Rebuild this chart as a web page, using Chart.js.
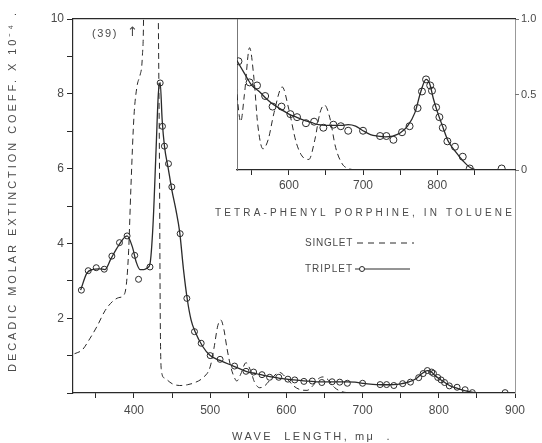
<!DOCTYPE html>
<html>
<head>
<meta charset="utf-8">
<script src="https://cdn.jsdelivr.net/npm/chart.js@4.4.1/dist/chart.umd.min.js"></script>
<style>
  html, body { margin: 0; padding: 0; background: #fff; }
  #wrap { position: relative; width: 542px; height: 443px; }
  #wrap canvas { position: absolute; left: 0; top: 0; }
</style>
</head>
<body>
<div id="wrap">
  <canvas id="main" width="542" height="443"></canvas>
  <canvas id="inset" width="542" height="443"></canvas>
</div>
<script>
// wave length in m\u03bc, extinction coeff. x 10^-4

// singlet (dashed)
const singletWave = [322,332,342,352,362,372,380,386,390,393,396,400,404,408,411,413,418,428,432,433.5,434.5,436,440,450,460,470,480,490,500,505,510,514,518,522,527,531,535,540,547,553,558,565,572,580,591,600,610,620,627,635,642,648,655,663,672,680,690];
const singletVal = [1.05,1.15,1.45,1.8,2.2,2.45,2.55,2.6,2.9,3.8,5.5,7.4,8.2,8.5,9.0,11,39,20,10,6,2,0.6,0.4,0.25,0.2,0.22,0.28,0.4,0.7,1.2,1.8,1.95,1.7,1.2,0.7,0.45,0.32,0.5,0.81,0.6,0.3,0.14,0.2,0.38,0.55,0.4,0.18,0.08,0.07,0.2,0.38,0.43,0.35,0.15,0.04,0.01,0];

// triplet, drawn curve
const tripletCurveWave = [330,338,345,355,362,370,380,391,398,403,408,413,418,421,425,429,432,434.4,437,440,445,450,455,460,465,470,475,480,490,500,513,528,540,550,560,570,580,590,600,610,620,630,640,650,660,670,680,690,700,710,720,730,740,750,760,770,778,785,790,795,800,808,815,825,835,845,860,905];
const tripletCurveVal = [2.75,3.2,3.3,3.32,3.3,3.6,3.95,4.2,3.9,3.5,3.3,3.3,3.35,3.45,4.5,6.5,8.0,8.3,7.3,6.6,6.0,5.4,4.9,4.3,3.3,2.5,1.95,1.65,1.25,1.0,0.87,0.74,0.64,0.56,0.52,0.47,0.43,0.40,0.37,0.35,0.33,0.315,0.30,0.295,0.295,0.295,0.30,0.29,0.26,0.235,0.225,0.22,0.225,0.245,0.29,0.38,0.52,0.60,0.57,0.47,0.39,0.28,0.19,0.12,0.06,0.015,0,0];

// triplet, measured points (circles)
const tripletPtWave = [331,340,350.5,361,371,381,391,401,406,421,434.4,437.4,440,445.3,449.7,460.6,469.4,479.4,488.2,500,513,532,547,557,568,578,590,602,611,623,634,646.5,660,670,680,700,723,731.5,741,752.6,762.8,773.6,779.5,785,790.6,793,798.6,803,807.6,813.8,824,834.5,844,887];
const tripletPtVal = [2.75,3.27,3.35,3.31,3.66,4.02,4.2,3.68,3.04,3.37,8.29,7.13,6.6,6.13,5.51,4.26,2.53,1.64,1.33,1.0,0.9,0.72,0.58,0.56,0.49,0.42,0.42,0.37,0.35,0.31,0.32,0.28,0.30,0.29,0.26,0.26,0.225,0.225,0.20,0.25,0.29,0.41,0.52,0.60,0.56,0.525,0.415,0.35,0.28,0.19,0.154,0.088,0.01,0.01];

// ticks
const mainXTicks = [350,400,450,500,550,600,650,700,750,800,850,900];
const mainXLabels = [400,500,600,700,800,900];
const mainYTicks = [0,1,2,3,4,5,6,7,8,9,10];
const mainYLabels = [2,4,6,8,10];
const insetXTicks = [550,600,650,700,750,800,850];
const insetXLabels = [600,700,800];
const insetYTicks = [0,0.5,1.0];
const insetYLabels = ['0','0.5','1.0'];

const INK = '#2a2a2a';
const TXT = '#4a4a4a';
Chart.defaults.font.family = '"Liberation Sans", "DejaVu Sans", sans-serif';
Chart.defaults.color = TXT;

const pts = (xs, ys) => xs.map((x, i) => ({x: x, y: ys[i]}));

function spaced(ctx, text, x, y, width) {
  // stretch the text to the wanted width, like the wide hand lettering
  if ('letterSpacing' in ctx) {
    ctx.letterSpacing = '0px';
    const w = ctx.measureText(text).width;
    ctx.letterSpacing = ((width - w) / text.length) + 'px';
  }
  ctx.fillText(text, x, y);
  if ('letterSpacing' in ctx) ctx.letterSpacing = '0px';
}

function makeDatasets(r) {
  return [
    {
      data: pts(singletWave, singletVal),
      borderColor: INK, borderWidth: 1, borderDash: [6, 4],
      pointRadius: 0, cubicInterpolationMode: 'monotone', fill: false
    },
    {
      data: pts(tripletCurveWave, tripletCurveVal),
      borderColor: INK, borderWidth: 1.3,
      pointRadius: 0, cubicInterpolationMode: 'monotone', fill: false
    },
    {
      data: pts(tripletPtWave, tripletPtVal),
      showLine: false, pointRadius: r, pointBorderWidth: 1,
      pointBorderColor: INK, pointBackgroundColor: 'rgba(255,255,255,0)'
    }
  ];
}

const mainText = {
  id: 'mainText',
  afterDraw(chart) {
    const ctx = chart.ctx;
    ctx.save();
    ctx.fillStyle = TXT;
    ctx.textBaseline = 'middle';
    ctx.textAlign = 'left';
    ctx.font = '11px "Liberation Sans", sans-serif';
    // y title
    ctx.save();
    ctx.translate(13, 372);
    ctx.rotate(-Math.PI / 2);
    spaced(ctx, 'DECADIC MOLAR EXTINCTION COEFF. X 10\u207b\u2074 .', 0, 0, 362);
    ctx.restore();
    // x title
    spaced(ctx, 'WAVE  LENGTH, m\u03bc  .', 232, 437, 160);
    // off-scale peak
    ctx.font = '11px "Liberation Sans", sans-serif';
    spaced(ctx, '(39)', 92, 34, 26);
    ctx.font = '13px "DejaVu Sans", sans-serif';
    ctx.fillText('\u2191', 127, 33);
    ctx.restore();
  }
};

new Chart(document.getElementById('main'), {
  type: 'line',
  data: { datasets: makeDatasets(3) },
  options: {
    responsive: false, animation: false, events: [],
    plugins: { legend: { display: false }, tooltip: { enabled: false } },
    layout: { padding: 0 },
    scales: {
      x: {
        type: 'linear', position: 'bottom', min: 320, max: 900,
        afterFit: s => { s.height = 50; },
        afterBuildTicks: s => { s.ticks = mainXTicks.map(v => ({value: v})); },
        ticks: {
          autoSkip: false, maxRotation: 0, padding: 5,
          font: { size: 12 }, color: TXT,
          callback: v => mainXLabels.includes(v) ? String(v) : ''
        },
        grid: { drawOnChartArea: false, tickLength: 5, color: INK },
        border: { color: INK, width: 1.2 }
      },
      xTop: {
        type: 'linear', position: 'top', min: 320, max: 900,
        afterFit: s => { s.height = 19; },
        ticks: { display: false }, grid: { display: false },
        border: { color: INK, width: 1.2 }
      },
      y: {
        type: 'linear', position: 'left', min: 0, max: 10,
        afterFit: s => { s.width = 73; },
        afterBuildTicks: s => { s.ticks = mainYTicks.map(v => ({value: v})); },
        ticks: {
          autoSkip: false, padding: 3,
          font: { size: 12 }, color: TXT,
          callback: v => mainYLabels.includes(v) ? String(v) : ''
        },
        grid: { drawOnChartArea: false, tickLength: 6, color: INK },
        border: { color: INK, width: 1.2 }
      },
      yRight: {
        type: 'linear', position: 'right', min: 0, max: 10,
        afterFit: s => { s.width = 27; },
        ticks: { display: false }, grid: { display: false },
        border: { color: '#999', width: 1, dash: [1, 3] }
      }
    }
  },
  plugins: [mainText]
});

const insetText = {
  id: 'insetText',
  afterDraw(chart) {
    const ctx = chart.ctx;
    ctx.save();
    ctx.fillStyle = TXT;
    ctx.textBaseline = 'middle';
    ctx.textAlign = 'left';
    ctx.font = '10px "Liberation Sans", sans-serif';
    spaced(ctx, 'TETRA-PHENYL PORPHINE, IN TOLUENE', 215, 213, 300);
    spaced(ctx, 'SINGLET', 305, 243, 48);
    spaced(ctx, 'TRIPLET', 305, 269, 48);
    ctx.strokeStyle = INK;
    ctx.lineWidth = 1;
    ctx.setLineDash([6, 5]);
    ctx.beginPath();
    ctx.moveTo(357, 243);
    ctx.lineTo(414, 243);
    ctx.stroke();
    ctx.setLineDash([]);
    ctx.beginPath();
    ctx.moveTo(355, 269);
    ctx.lineTo(410, 269);
    ctx.stroke();
    ctx.beginPath();
    ctx.fillStyle = '#fff';
    ctx.arc(362, 269, 2.5, 0, Math.PI * 2);
    ctx.fill();
    ctx.stroke();
    ctx.restore();
  }
};

new Chart(document.getElementById('inset'), {
  type: 'line',
  data: { datasets: makeDatasets(3.5) },
  options: {
    responsive: false, animation: false, events: [],
    plugins: { legend: { display: false }, tooltip: { enabled: false } },
    layout: { padding: 0 },
    scales: {
      x: {
        type: 'linear', position: 'bottom', min: 530, max: 905,
        afterFit: s => { s.height = 273; },
        afterBuildTicks: s => { s.ticks = insetXTicks.map(v => ({value: v})); },
        ticks: {
          autoSkip: false, maxRotation: 0, padding: 3,
          font: { size: 12 }, color: TXT,
          callback: v => insetXLabels.includes(v) ? String(v) : ''
        },
        grid: { drawOnChartArea: false, tickLength: 5, color: INK },
        border: { color: INK, width: 1.2 }
      },
      xTop: {
        type: 'linear', position: 'top', min: 530, max: 905,
        afterFit: s => { s.height = 19; },
        ticks: { display: false }, grid: { display: false },
        border: { display: false }
      },
      y: {
        type: 'linear', position: 'right', min: 0, max: 1.0,
        afterFit: s => { s.width = 27; },
        afterBuildTicks: s => { s.ticks = insetYTicks.map(v => ({value: v})); },
        ticks: {
          autoSkip: false, padding: 2,
          font: { size: 11 }, color: TXT,
          callback: (v, i) => insetYLabels[i]
        },
        grid: { drawOnChartArea: false, tickLength: 4, color: '#777' },
        border: { display: false }
      },
      yLeft: {
        type: 'linear', position: 'left', min: 0, max: 1.0,
        afterFit: s => { s.width = 237; },
        ticks: { display: false }, grid: { display: false },
        border: { color: '#777', width: 1 }
      }
    }
  },
  plugins: [insetText]
});
</script>
</body>
</html>
